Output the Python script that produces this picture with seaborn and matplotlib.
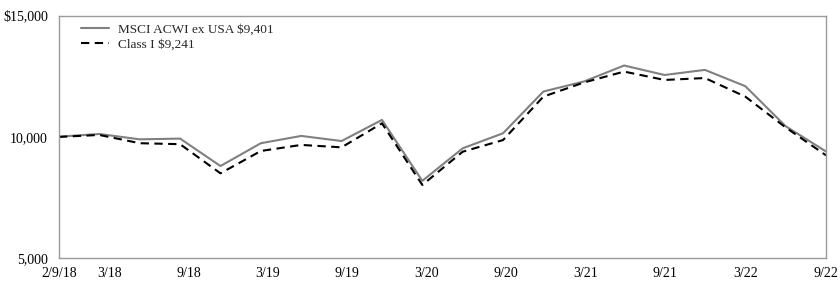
import matplotlib
matplotlib.use("Agg")
import matplotlib.pyplot as plt
import seaborn as sns
import pandas as pd
import numpy as np

periods = ["2/9/18", "3/18", "6/18", "9/18", "12/18", "3/19", "6/19", "9/19", "12/19",
           "3/20", "6/20", "9/20", "12/20", "3/21", "6/21", "9/21", "12/21", "3/22",
           "6/22", "9/22"]
msci = [10010, 10120, 9900, 9930, 8800, 9740, 10040, 9830, 10700, 8190, 9530, 10150,
        11870, 12280, 12940, 12550, 12760, 12090, 10440, 9401]
class_i = [10000, 10080, 9740, 9700, 8500, 9420, 9670, 9570, 10560, 8020, 9390, 9870,
           11660, 12240, 12690, 12345, 12425, 11660, 10390, 9241]

tick_labels = ["2/9/18", "3/18", "9/18", "3/19", "9/19", "3/20", "9/20", "3/21", "9/21", "3/22", "9/22"]
tick_pos = [0, 1.26, 3.22, 5.18, 7.14, 9.1, 11.06, 13.04, 15.02, 17.0, 19]

series_names = ["MSCI ACWI ex USA $9,401", "Class I $9,241"]

n = len(periods)
df = pd.DataFrame({
    "idx": list(range(n)) * 2,
    "value": msci + class_i,
    "series": [series_names[0]] * n + [series_names[1]] * n,
})

sns.set_style("white")
plt.rcParams["font.family"] = ["Liberation Serif", "DejaVu Serif"]

fig = plt.figure(figsize=(8.4, 2.87), dpi=100)
ax = fig.add_axes([59/840, 1 - 258.3/287, (826-59)/840, (258.3-15.5)/287])

sns.lineplot(data=df, x="idx", y="value", hue="series", style="series",
             palette={series_names[0]: "#808080", series_names[1]: "#000000"},
             dashes={series_names[0]: "", series_names[1]: (4, 2.6)},
             linewidth=1.5, ax=ax, legend=True)

ax.set_xlim(0, n - 1)
ax.set_ylim(5000, 15000)
ax.set_yticks([5000, 10000, 15000])
ax.set_yticklabels(["5,000", "10,000", "$15,000"])
ax.set_xticks(tick_pos)
ax.set_xticklabels(tick_labels)
ax.set_xlabel("")
ax.set_ylabel("")

for s in ax.spines.values():
    s.set_color("#9a9a9a")
    s.set_linewidth(1.0)
    s.set_visible(True)

ax.tick_params(axis="x", which="both", direction="out", length=5, width=1,
               color="#9a9a9a", labelsize=10, pad=1, labelcolor="black")
ax.tick_params(axis="y", which="both", direction="out", length=0,
               labelsize=10, pad=8, labelcolor="black")

leg = ax.legend(loc="upper left", frameon=False, fontsize=9.5,
                bbox_to_anchor=(0.016, 1.006), handlelength=2.15, handletextpad=0.7,
                labelspacing=0.22, borderaxespad=0.3)

fig.savefig("out.png", dpi=100)
